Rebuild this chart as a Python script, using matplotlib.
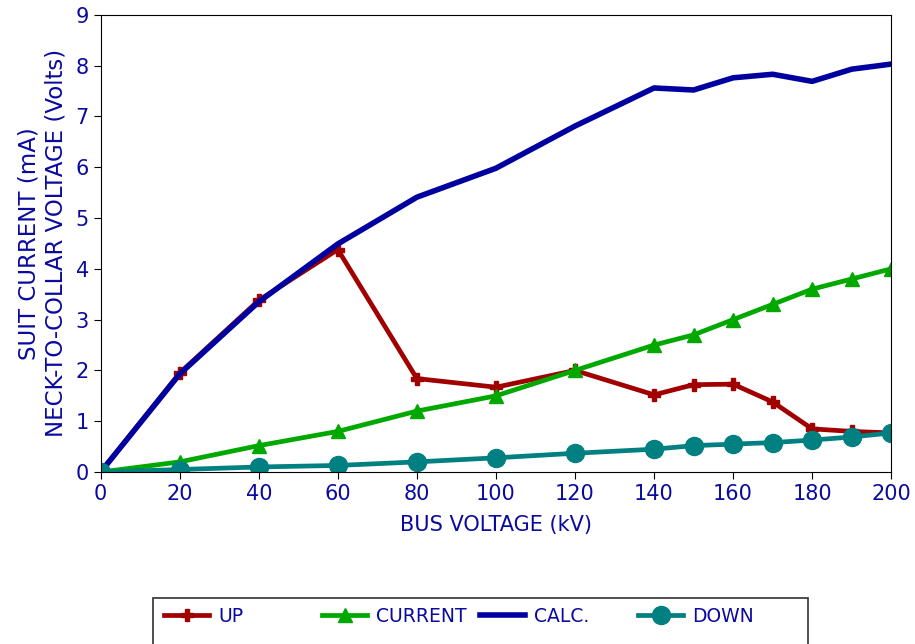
import matplotlib
matplotlib.use("Agg")
from matplotlib import pyplot as plt
from matplotlib.patches import Rectangle

bus_kv = [0, 20, 40, 60, 80, 100, 120, 140, 150, 160, 170, 180, 190, 200]
up = [0, 1.95, 3.38, 4.38, 1.84, 1.67, 2.0, 1.52, 1.72, 1.73, 1.38, 0.85, 0.80, 0.77]
current = [0, 0.2, 0.52, 0.8, 1.2, 1.5, 2.0, 2.5, 2.7, 3.0, 3.3, 3.6, 3.8, 4.0]
calc = [0, 1.93, 3.35, 4.49, 5.41, 5.98, 6.81, 7.56, 7.52, 7.76, 7.83, 7.69, 7.93, 8.03]
down = [0, 0.05, 0.1, 0.13, 0.2, 0.28, 0.37, 0.45, 0.52, 0.55, 0.58, 0.63, 0.69, 0.77]

txt = "#0A0AA0"
plt.rcParams["font.family"] = ["DejaVu Sans"]

W, H = 915, 644
fig = plt.figure(figsize=(W / 100, H / 100), dpi=100)
ax = fig.add_axes([0.110, 0.267, 0.864, 0.710])

lines = []
lines += ax.plot(bus_kv, up, color="#A00000", lw=3.4, marker="P", ms=8, label="UP")
lines += ax.plot(bus_kv, current, color="#00A800", lw=3.4, marker="^", ms=10, label="CURRENT")
lines += ax.plot(bus_kv, calc, color="#0000A0", lw=4, label="CALC.")
lines += ax.plot(bus_kv, down, color="#008080", lw=3.4, marker="o", ms=13, label="DOWN")

ax.set_xlim(0, 200)
ax.set_ylim(0, 9)
ax.set_xticks(range(0, 201, 20))
ax.set_yticks(range(0, 10))
ax.tick_params(direction="out", length=5, colors="black", labelcolor=txt, labelsize=15)

ax.set_xlabel("BUS VOLTAGE (kV)", color=txt, fontsize=15, labelpad=8)
ax.set_ylabel("SUIT CURRENT (mA)\nNECK-TO-COLLAR VOLTAGE (Volts)", color=txt,
              fontsize=16.5, linespacing=1.2, labelpad=6)

# legend box along the bottom (runs past the lower edge)
fig.patches.append(Rectangle((153 / W, -0.05), (808 - 153) / W, 0.05 + 1 - 598 / H,
                             transform=fig.transFigure, fill=False,
                             edgecolor="#404040", lw=1.3))
for x0, ln in zip([164, 322, 480, 638], lines):
    leg = fig.legend(handles=[ln], loc="center left",
                     bbox_to_anchor=(x0 / W, 1 - 616 / H), frameon=False,
                     borderpad=0, borderaxespad=0, handlelength=2.4,
                     handletextpad=0.5, prop={"size": 13.5})
    for t in leg.get_texts():
        t.set_color(txt)

fig.savefig("out.png", dpi=100)
